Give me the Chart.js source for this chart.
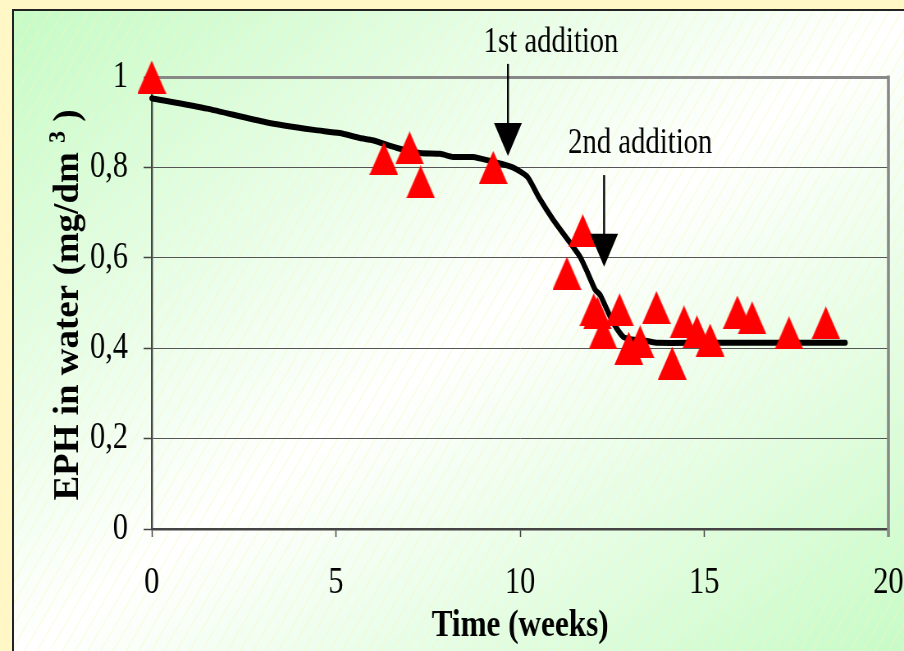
<!DOCTYPE html>
<html>
<head>
<meta charset="utf-8">
<title>EPH in water</title>
<script src="https://cdn.jsdelivr.net/npm/chart.js@4.4.0/dist/chart.umd.min.js"></script>
<style>
  html, body { margin: 0; padding: 0; overflow: hidden; }
  body { width: 904px; height: 651px; background: #fff8c6; position: relative; }
  #panel {
    position: absolute; left: 12px; top: 9px; width: 900px; height: 650px;
    border-left: 2px solid #222; border-top: 2px solid #222;
    background:
      repeating-linear-gradient(120deg, rgba(255,248,190,0) 0px, rgba(255,248,190,0) 9px, rgba(250,245,180,0.45) 10px, rgba(255,248,190,0) 11px),
      linear-gradient(to bottom right, #c6fbc6 0%, #ffffff 50%, #c6fbc6 100%);
  }
  #myChart { position: absolute; left: 0; top: 0; }
</style>
</head>
<body>
<div id="panel"></div>
<canvas id="myChart" width="1102" height="651" style="width:904px;height:651px"></canvas>
<script>
// measured points (triangles)
const weeks = [0, 6.3, 7.0, 7.3, 9.27, 11.27, 11.7, 12.0, 12.1, 12.25, 12.7, 12.95, 13.26, 13.7, 14.13, 14.45, 14.8, 15.16, 15.9, 16.3, 17.3, 18.3]
const eph = [1.0, 0.82, 0.843, 0.768, 0.80, 0.566, 0.66, 0.485, 0.478, 0.434, 0.485, 0.40, 0.414, 0.49, 0.367, 0.458, 0.436, 0.418, 0.48, 0.467, 0.434, 0.456]

// fitted curve
const fitWeeks = [0, 1.5, 3.1, 4.4, 5.1, 5.65, 6.0, 6.66, 7.28, 7.83, 8.18, 8.72, 9.1, 9.8, 10.2, 10.5, 10.9, 11.36, 11.63, 11.8, 12.04, 12.17, 12.36, 12.53, 12.8, 13.0, 13.45, 13.72, 15, 17, 18.83]
const fitEph = [0.953, 0.93, 0.90, 0.883, 0.876, 0.865, 0.86, 0.843, 0.832, 0.83, 0.823, 0.823, 0.816, 0.80, 0.779, 0.735, 0.684, 0.633, 0.602, 0.573, 0.529, 0.518, 0.485, 0.456, 0.425, 0.42, 0.416, 0.412, 0.412, 0.412, 0.412]

const xTicks = [0, 5, 10, 15, 20]
const yTicks = [0, 0.2, 0.4, 0.6, 0.8, 1]

// arrows with their notes
const notes = ['1st addition', '2nd addition']
const noteWeek = [9.67, 12.28]
const noteTop = [1.029, 0.783]
const noteTip = [0.825, 0.58]
const labelWeek = [10.84, 13.26]
const labelEph = [1.055, 0.832]

const serif = '"Liberation Serif", "Times New Roman", serif'

// red triangle, a bit taller than the built in one
const tri = document.createElement('canvas')
tri.width = 35
tri.height = 33
const tctx = tri.getContext('2d')
tctx.fillStyle = '#ff0000'
tctx.beginPath()
tctx.moveTo(17.5, 0)
tctx.lineTo(35, 33)
tctx.lineTo(0, 33)
tctx.closePath()
tctx.fill()

const extras = {
  id: 'extras',
  beforeDatasetsDraw(chart) {
    const ctx = chart.ctx
    const a = chart.chartArea
    ctx.save()
    ctx.strokeStyle = '#888'
    ctx.lineWidth = 3.6
    ctx.beginPath()
    ctx.moveTo(a.right, a.top - 1.5)
    ctx.lineTo(a.right, a.bottom + 8)
    ctx.stroke()
    ctx.restore()
  },
  afterDraw(chart) {
    const ctx = chart.ctx
    const xs = chart.scales.x
    const ys = chart.scales.y
    ctx.save()
    ctx.fillStyle = '#000'
    ctx.strokeStyle = '#000'
    for (let i = 0; i < notes.length; i++) {
      const x = xs.getPixelForValue(noteWeek[i])
      const top = ys.getPixelForValue(noteTop[i])
      const tip = ys.getPixelForValue(noteTip[i])
      ctx.lineWidth = 2.4
      ctx.beginPath()
      ctx.moveTo(x, top)
      ctx.lineTo(x, tip - 30)
      ctx.stroke()
      ctx.beginPath()
      ctx.moveTo(x - 17, tip - 33)
      ctx.lineTo(x + 17, tip - 33)
      ctx.lineTo(x, tip)
      ctx.closePath()
      ctx.fill()

      ctx.font = '35px ' + serif
      ctx.textAlign = 'center'
      ctx.textBaseline = 'alphabetic'
      ctx.fillText(notes[i], xs.getPixelForValue(labelWeek[i]), ys.getPixelForValue(labelEph[i]))
    }

    // y axis title, with raised 3
    ctx.translate(95, 305)
    ctx.rotate(-Math.PI / 2)
    ctx.scale(1, 1.2)
    ctx.textAlign = 'left'
    ctx.textBaseline = 'alphabetic'
    const main = 'EPH in water (mg/dm '
    const tail = ' )'
    ctx.font = 'bold 37px ' + serif
    const wMain = ctx.measureText(main).width
    const wTail = ctx.measureText(tail).width
    ctx.font = 'bold 24px ' + serif
    const wSup = ctx.measureText('3').width
    let x0 = -(wMain + wSup + wTail) / 2
    ctx.font = 'bold 37px ' + serif
    ctx.fillText(main, x0, 0)
    ctx.font = 'bold 24px ' + serif
    ctx.fillText('3', x0 + wMain, -13)
    ctx.font = 'bold 37px ' + serif
    ctx.fillText(tail, x0 + wMain + wSup, 0)
    ctx.restore()
  }
}

const ctx = document.getElementById('myChart')

new Chart(ctx, {
  type: 'scatter',
  data: {
    datasets: [{
      label: 'EPH',
      data: weeks.map((w, i) => ({x: w, y: eph[i]})),
      pointStyle: tri,
      pointRadius: 17,
      pointHoverRadius: 17,
      clip: false
    }, {
      label: 'fit',
      type: 'line',
      data: fitWeeks.map((w, i) => ({x: w, y: fitEph[i]})),
      borderColor: '#000',
      borderWidth: 6,
      borderCapStyle: 'round',
      borderJoinStyle: 'round',
      pointRadius: 0,
      tension: 0.2,
      fill: false,
      clip: false
    }]
  },
  options: {
    responsive: false,
    devicePixelRatio: 1,
    animation: false,
    events: [],
    layout: { padding: { top: 77, right: 19, left: 0, bottom: 0 } },
    plugins: {
      legend: { display: false },
      tooltip: { enabled: false }
    },
    scales: {
      x: {
        type: 'linear',
        min: 0,
        max: 20,
        afterFit: s => { s.height = 122; s.paddingLeft = 0; s.paddingRight = 0 },
        afterBuildTicks: s => { s.ticks = xTicks.map(v => ({value: v})) },
        grid: { drawOnChartArea: false, drawTicks: true, tickLength: 8, tickColor: '#444', tickWidth: 1.5 },
        border: { color: '#444', width: 2.4 },
        ticks: { color: '#000', padding: 24, font: { family: serif, size: 37 } },
        title: {
          display: true,
          text: 'Time (weeks)',
          color: '#000',
          font: { family: serif, size: 38, weight: 'bold' },
          padding: { top: 0, bottom: 2 }
        }
      },
      y: {
        min: 0,
        max: 1,
        afterFit: s => { s.width = 185; s.paddingTop = 0; s.paddingBottom = 0 },
        afterBuildTicks: s => { s.ticks = yTicks.map(v => ({value: v})) },
        grid: {
          color: c => c.tick && c.tick.value === 1 ? '#888' : '#555',
          lineWidth: c => c.tick && c.tick.value === 1 ? 3 : 1,
          tickLength: 10,
          tickColor: '#444',
          tickWidth: 1.5
        },
        border: { color: '#444', width: 2.4 },
        ticks: {
          color: '#000',
          padding: 19,
          font: { family: serif, size: 37 },
          callback: v => {
            const r = Math.round(v * 10) / 10
            return (r === 0 || r === 1) ? String(r) : r.toFixed(1).replace('.', ',')
          }
        }
      }
    }
  },
  plugins: [extras]
})
</script>
</body>
</html>
